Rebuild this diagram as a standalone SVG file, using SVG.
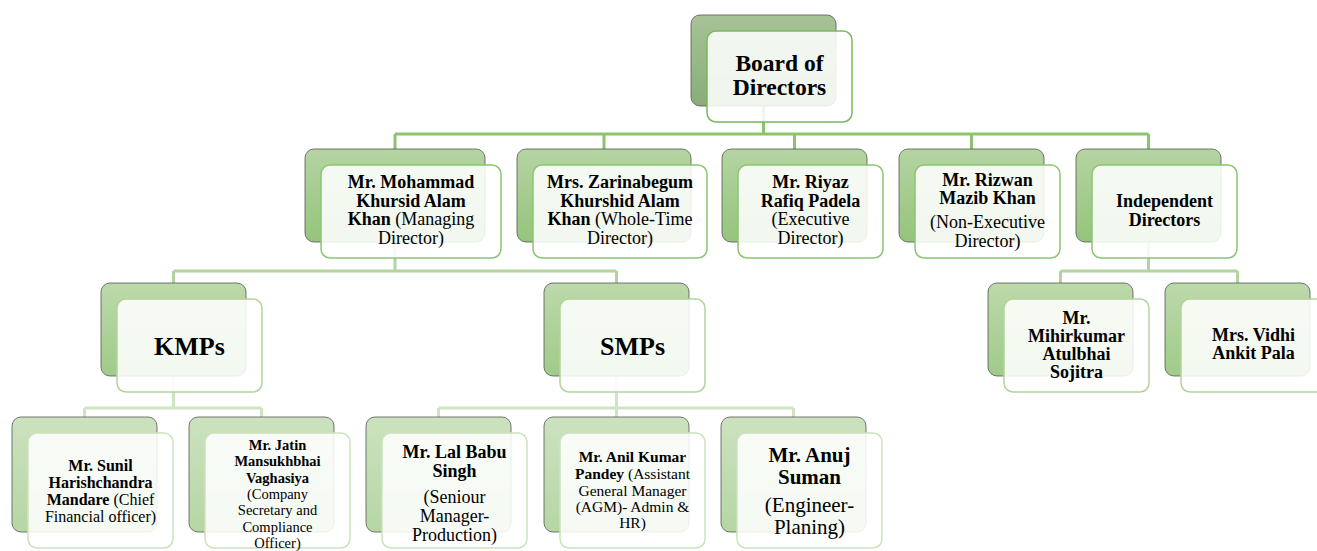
<svg xmlns="http://www.w3.org/2000/svg" width="1317" height="551" viewBox="0 0 1317 551">
<defs>
<linearGradient id="g0" x1="0" y1="0" x2="0" y2="1"><stop offset="0" stop-color="#a6c397"/><stop offset="1" stop-color="#89ad79"/></linearGradient>
<linearGradient id="g1" x1="0" y1="0" x2="0" y2="1"><stop offset="0" stop-color="#b5d4a2"/><stop offset="1" stop-color="#95c47c"/></linearGradient>
<linearGradient id="g2" x1="0" y1="0" x2="0" y2="1"><stop offset="0" stop-color="#bcd9aa"/><stop offset="1" stop-color="#a0cb89"/></linearGradient>
<linearGradient id="g3" x1="0" y1="0" x2="0" y2="1"><stop offset="0" stop-color="#cce2bf"/><stop offset="1" stop-color="#b6d6a4"/></linearGradient>
<style>
.t{font-family:"Liberation Serif","Times New Roman",serif;fill:#000;text-anchor:middle}
.b{font-weight:bold}
.back{stroke:#555;stroke-width:1;stroke-opacity:0.8}
.b0{fill:url(#g0)}.b1{fill:url(#g1)}.b2{fill:url(#g2)}.b3{fill:url(#g3)}
.front{fill:#fff;fill-opacity:0.87;stroke-width:1.5}
.f0{stroke:#7cb75e}.f1{stroke:#8dc572}.f2{stroke:#b0d59b}.f3{stroke:#cbe3bd}
.c{fill:none;stroke-width:3}
.c1{stroke:#8dc26f}.c2{stroke:#b3d49f}.c3{stroke:#cfe4c3}
</style>
</defs>
<rect width="1317" height="551" fill="#fff"/>
<g id="connectors">
<path class="c c1" d="M763.5 106V134M395 134H1148.5M395 134V149M604 134V149M794.5 134V149M971.5 134V149M1148.5 134V149"/>
<path class="c c2" d="M395 242V271M173.5 271H616.5M173.5 271V283M616.5 271V283M1148.5 242V271M1060.5 271H1237.5M1060.5 271V283M1237.5 271V283"/>
<path class="c c3" d="M173.5 376V408M84.5 408H261.5M84.5 408V417M261.5 408V417M616.5 376V408M438.5 408H793.5M438.5 408V417M616.5 408V417M793.5 408V417"/>
</g>
<g id="board">
<rect class="back b0" x="691" y="15" width="145" height="91" rx="9"/>
<rect class="front f0" x="707" y="31" width="145" height="91" rx="9"/>
<text class="t b" font-size="23.5" x="779.5" y="71">Board of</text>
<text class="t b" font-size="23.5" x="779.5" y="95">Directors</text>
</g>
<g id="mohammad">
<rect class="back b1" x="305" y="149" width="180" height="93" rx="9"/>
<rect class="front f1" x="321" y="165" width="180" height="93" rx="9"/>
<text class="t" font-size="18" x="411" y="188"><tspan class="b">Mr. Mohammad</tspan></text>
<text class="t" font-size="18" x="411" y="206.5"><tspan class="b">Khursid  Alam</tspan></text>
<text class="t" font-size="18" x="411" y="225"><tspan class="b">Khan</tspan> (Managing</text>
<text class="t" font-size="18" x="411" y="243.5">Director)</text>
</g>
<g id="zarina">
<rect class="back b1" x="517" y="149" width="174" height="93" rx="9"/>
<rect class="front f1" x="533" y="165" width="174" height="93" rx="9"/>
<text class="t" font-size="18" x="620" y="188"><tspan class="b">Mrs. Zarinabegum</tspan></text>
<text class="t" font-size="18" x="620" y="206.5"><tspan class="b">Khurshid  Alam</tspan></text>
<text class="t" font-size="18" x="620" y="225"><tspan class="b">Khan</tspan> (Whole-Time</text>
<text class="t" font-size="18" x="620" y="243.5">Director)</text>
</g>
<g id="riyaz">
<rect class="back b1" x="722" y="149" width="145" height="93" rx="9"/>
<rect class="front f1" x="738" y="165" width="145" height="93" rx="9"/>
<text class="t b" font-size="18" x="810.5" y="188">Mr. Riyaz</text>
<text class="t b" font-size="18" x="810.5" y="206.5">Rafiq Padela</text>
<text class="t" font-size="18" x="810.5" y="225">(Executive</text>
<text class="t" font-size="18" x="810.5" y="243.5">Director)</text>
</g>
<g id="rizwan">
<rect class="back b1" x="899" y="149" width="145" height="93" rx="9"/>
<rect class="front f1" x="915" y="165" width="145" height="93" rx="9"/>
<text class="t b" font-size="18" x="987.5" y="186">Mr. Rizwan</text>
<text class="t b" font-size="18" x="987.5" y="204">Mazib Khan</text>
<text class="t" font-size="18" x="987.5" y="228">(Non-Executive</text>
<text class="t" font-size="18" x="987.5" y="247">Director)</text>
</g>
<g id="independent">
<rect class="back b1" x="1076" y="149" width="145" height="93" rx="9"/>
<rect class="front f1" x="1092" y="165" width="145" height="93" rx="9"/>
<text class="t b" font-size="18" x="1164.5" y="207">Independent</text>
<text class="t b" font-size="18" x="1164.5" y="226">Directors</text>
</g>
<g id="kmps">
<rect class="back b2" x="101" y="283" width="145" height="93" rx="9"/>
<rect class="front f2" x="117" y="299" width="145" height="93" rx="9"/>
<text class="t b" font-size="26" x="189.5" y="355">KMPs</text>
</g>
<g id="smps">
<rect class="back b2" x="544" y="283" width="145" height="93" rx="9"/>
<rect class="front f2" x="560" y="299" width="145" height="93" rx="9"/>
<text class="t b" font-size="26" x="632.5" y="355">SMPs</text>
</g>
<g id="mihirkumar">
<rect class="back b2" x="988" y="283" width="145" height="93" rx="9"/>
<rect class="front f2" x="1004" y="299" width="145" height="93" rx="9"/>
<text class="t b" font-size="18" x="1076.5" y="324">Mr.</text>
<text class="t b" font-size="18" x="1076.5" y="342">Mihirkumar</text>
<text class="t b" font-size="18" x="1076.5" y="360">Atulbhai</text>
<text class="t b" font-size="18" x="1076.5" y="378">Sojitra</text>
</g>
<g id="vidhi">
<rect class="back b2" x="1165" y="283" width="145" height="93" rx="9"/>
<rect class="front f2" x="1181" y="299" width="145" height="93" rx="9"/>
<text class="t b" font-size="18" x="1253.5" y="341">Mrs. Vidhi</text>
<text class="t b" font-size="18" x="1253.5" y="359">Ankit Pala</text>
</g>
<g id="sunil">
<rect class="back b3" x="12" y="417" width="145" height="115" rx="9"/>
<rect class="front f3" x="28" y="433" width="145" height="115" rx="9"/>
<text class="t b" font-size="16" x="100.5" y="471">Mr. Sunil</text>
<text class="t b" font-size="16" x="100.5" y="488">Harishchandra</text>
<text class="t" font-size="16" x="100.5" y="505"><tspan class="b">Mandare</tspan> (Chief</text>
<text class="t" font-size="16" x="100.5" y="522">Financial officer)</text>
</g>
<g id="jatin">
<rect class="back b3" x="189" y="417" width="145" height="115" rx="9"/>
<rect class="front f3" x="205" y="433" width="145" height="115" rx="9"/>
<text class="t b" font-size="14.5" x="277.5" y="450">Mr. Jatin</text>
<text class="t b" font-size="14.5" x="277.5" y="466">Mansukhbhai</text>
<text class="t b" font-size="14.5" x="277.5" y="483">Vaghasiya</text>
<text class="t" font-size="14.5" x="277.5" y="499">(Company</text>
<text class="t" font-size="14.5" x="277.5" y="515">Secretary and</text>
<text class="t" font-size="14.5" x="277.5" y="532">Compliance</text>
<text class="t" font-size="14.5" x="277.5" y="548">Officer)</text>
</g>
<g id="lalbabu">
<rect class="back b3" x="366" y="417" width="145" height="115" rx="9"/>
<rect class="front f3" x="382" y="433" width="145" height="115" rx="9"/>
<text class="t b" font-size="18" x="454.5" y="458">Mr. Lal Babu</text>
<text class="t b" font-size="18" x="454.5" y="477">Singh</text>
<text class="t" font-size="18" x="454.5" y="503">(Seniour</text>
<text class="t" font-size="18" x="454.5" y="522">Manager-</text>
<text class="t" font-size="18" x="454.5" y="541">Production)</text>
</g>
<g id="anil">
<rect class="back b3" x="544" y="417" width="145" height="115" rx="9"/>
<rect class="front f3" x="560" y="433" width="145" height="115" rx="9"/>
<text class="t b" font-size="15.5" x="632.5" y="462">Mr. Anil Kumar</text>
<text class="t" font-size="15.5" x="632.5" y="479"><tspan class="b">Pandey</tspan> (Assistant</text>
<text class="t" font-size="15.5" x="632.5" y="496">General Manager</text>
<text class="t" font-size="15.5" x="632.5" y="512">(AGM)- Admin &amp;</text>
<text class="t" font-size="15.5" x="632.5" y="528">HR)</text>
</g>
<g id="anuj">
<rect class="back b3" x="721" y="417" width="145" height="115" rx="9"/>
<rect class="front f3" x="737" y="433" width="145" height="115" rx="9"/>
<text class="t b" font-size="21" x="809.5" y="462">Mr. Anuj</text>
<text class="t b" font-size="21" x="809.5" y="484">Suman</text>
<text class="t" font-size="21" x="809.5" y="512">(Engineer-</text>
<text class="t" font-size="21" x="809.5" y="534">Planing)</text>
</g>
</svg>
